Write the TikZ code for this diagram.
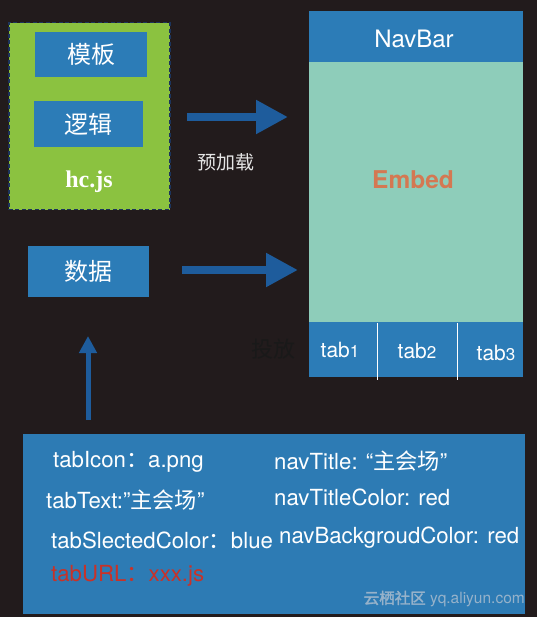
\documentclass[tikz,border=0pt]{standalone}
\usepackage{fontspec}
\setmainfont{TeX Gyre Heros}
\newfontfamily\cjk{Noto Sans CJK SC}
\newfontfamily\cjkb[FakeBold=2]{Noto Sans CJK SC}
\newfontfamily\serifb{Liberation Serif}
\usetikzlibrary{arrows.meta}
\definecolor{bgc}{RGB}{34,27,28}
\definecolor{boxblue}{RGB}{44,124,183}
\definecolor{panelblue}{RGB}{45,123,180}
\definecolor{greenc}{RGB}{139,194,64}
\definecolor{navyc}{RGB}{28,52,92}
\definecolor{tealc}{RGB}{142,205,186}
\definecolor{embedc}{RGB}{212,120,82}
\definecolor{arrowc}{RGB}{30,92,156}
\definecolor{urlred}{RGB}{200,50,40}
\definecolor{wmark}{RGB}{150,178,202}
\tikzset{
  bluebox/.style={fill=boxblue, inner sep=0pt, text=white, font=\cjk\fontsize{24}{24}\selectfont},
  bigarrow/.style={draw=arrowc, line width=8pt, -{Triangle[length=32pt,width=32pt]}},
  smallarrow/.style={draw=arrowc, line width=5pt, -{Triangle[length=17pt,width=17pt]}},
  info/.style={anchor=west, inner sep=0pt, text=white, font=\fontsize{22.2}{22.2}\selectfont},
  tablabel/.style={text=white, inner sep=0pt, font=\fontsize{21}{21}\selectfont},
}
\begin{document}
\begin{tikzpicture}[x=1pt,y=-1pt]
\fill[bgc] (0,0) rectangle (537,617);
\useasboundingbox (0,0) rectangle (537,617);
% green hc.js box
\node[draw=navyc, fill=greenc, line width=1.5pt, dash pattern=on 4pt off 2.5pt, inner sep=0pt,
  minimum width=161pt, minimum height=187pt, anchor=north west] (hc) at (8,22) {};
\node[bluebox, minimum width=112pt, minimum height=45pt] (tpl) at (91,54.5) {模板};
\node[bluebox, minimum width=109pt, minimum height=46pt] (logic) at (88.5,124) {逻辑};
\node[text=white, font=\serifb\bfseries\fontsize{24}{24}\selectfont, inner sep=0pt] (hcjs) at (89,182) {hc.js};
% data box
\node[bluebox, minimum width=121pt, minimum height=51pt] (data) at (88.5,271.5) {数据};
% phone
\node[fill=boxblue, inner sep=0pt, minimum width=214pt, minimum height=51pt, anchor=north west,
  text=white, font=\fontsize{24}{24}\selectfont] (nav) at (309,11) {};
\node[text=white, font=\fontsize{24}{24}\selectfont, inner sep=0pt] (navlabel) at (414,39) {NavBar};
\node[fill=tealc, inner sep=0pt, minimum width=214pt, minimum height=260pt, anchor=north west] (embed) at (309,62) {};
\node[text=embedc, font=\bfseries\fontsize{24.5}{24.5}\selectfont, inner sep=0pt] (embedlabel) at (413,180) {Embed};
\node[fill=boxblue, inner sep=0pt, minimum width=214pt, minimum height=55pt, anchor=north west] (tabbar) at (309,322) {};
\draw[white, line width=1pt] (377,323) coordinate (d1t) -- (377,380) coordinate (d1b);
\draw[white, line width=1pt] (457,323) coordinate (d2t) -- (457,380) coordinate (d2b);
\node[tablabel] (tab1) at (340,350) {tab{\fontsize{17}{17}\selectfont 1}};
\node[tablabel] (tab2) at (417,351) {tab{\fontsize{17}{17}\selectfont 2}};
\node[tablabel] (tab3) at (496,353) {tab{\fontsize{17}{17}\selectfont 3}};
% arrows
\coordinate (a1s) at (187,117);
\coordinate (a1e) at (288,117);
\draw[bigarrow] (a1s) -- (a1e);
\node[text=white!90!black, font=\cjk\fontsize{19}{19}\selectfont, inner sep=0pt] (preload) at (226,162) {预加载};
\coordinate (a2s) at (182,270);
\coordinate (a2e) at (298,270);
\draw[bigarrow] (a2s) -- (a2e);
\node[text=black!90, font=\cjk\fontsize{22}{22}\selectfont, inner sep=0pt] (put) at (273,349) {投放};
% bottom panel
\node[fill=panelblue, inner sep=0pt, minimum width=502pt, minimum height=180pt, anchor=north west] (panel) at (23,434) {};
\coordinate (a3s) at (88,420);
\coordinate (a3e) at (88,336);
\draw[smallarrow] (a3s) -- (a3e);
\node[info] (t1) at (53,462) {tabIcon{\cjk ：}a.png};
\node[info] (t2) at (274,461) {navTitle: “{\cjk 主会场}”};
\node[info] (t3) at (46,500) {tabText:”{\cjk 主会场}”};
\node[info] (t4) at (274,497) {navTitleColor: red};
\node[info] (t5) at (51,540) {tabSlectedColor{\cjk ：}blue};
\node[info] (t6) at (279,538) {navBackgroudColor: red};
\node[info, text=urlred] (t7) at (51,576) {tabURL{\cjk ：}xxx.js};
\node[anchor=east, inner sep=0pt, text=wmark, font=\fontsize{15.5}{15.5}\selectfont] (wm) at (525,599) {{\cjkb 云栖社区} yq.aliyun.com};
\end{tikzpicture}
\end{document}
